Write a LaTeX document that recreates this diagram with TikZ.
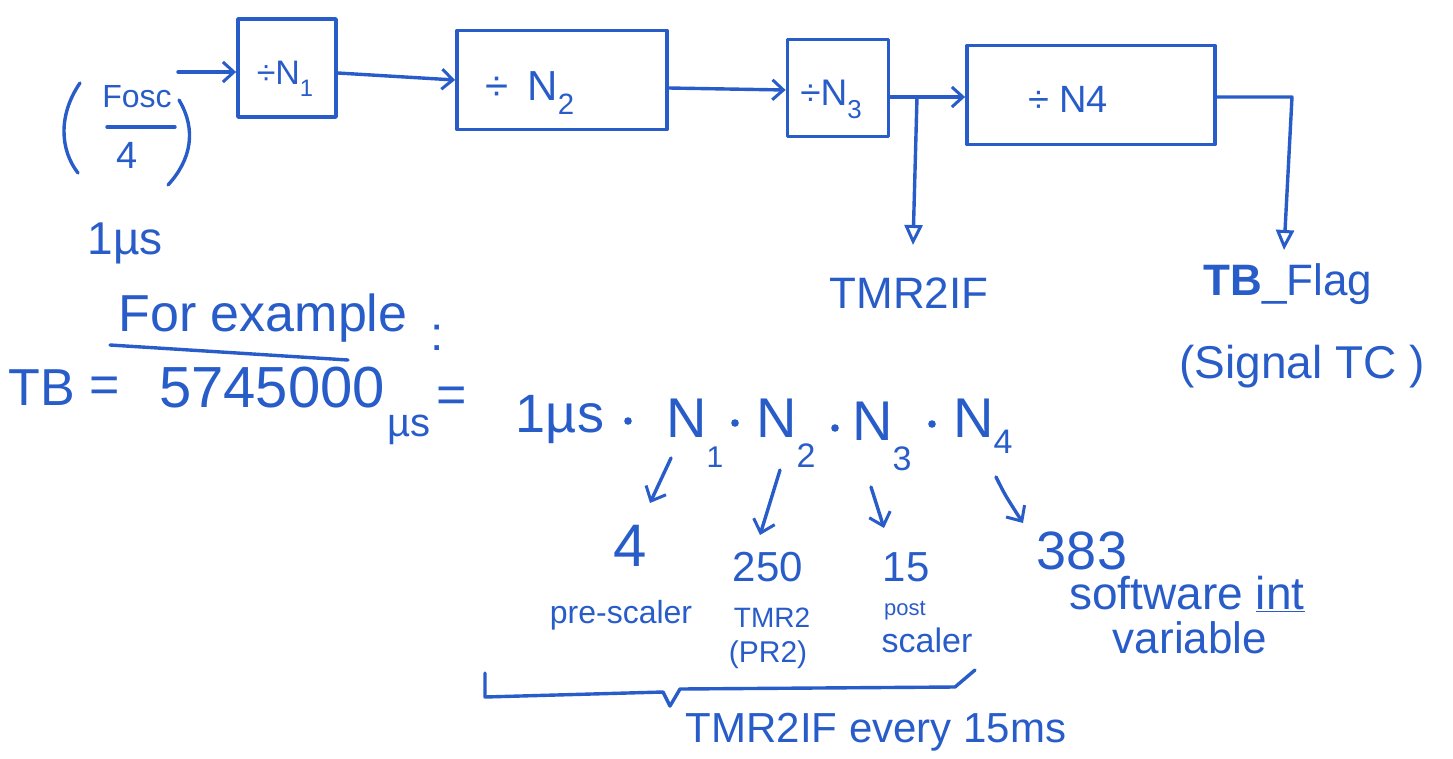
\documentclass[tikz,border=0pt]{standalone}
\usepackage{fontspec}
\usepackage{graphicx}
\setmainfont{Liberation Sans}
\usetikzlibrary{arrows.meta,calc}
\definecolor{ink}{RGB}{40,92,200}
\newcommand\fsz[1]{\fontsize{#1}{#1}\selectfont}
\newcommand\lowsub[1]{\raisebox{-0.35em}{\scalebox{0.7}{#1}}}
\newcommand\deepsub[2]{\raisebox{-0.55em}{\fsz{#1}#2}}

\begin{document}
\begin{tikzpicture}[x=1pt,y=-1pt, line cap=round, line join=round,
  every node/.style={text=ink, inner sep=0pt, anchor=center},
  box/.style={draw=ink, line width=3.8pt},
  wire/.style={draw=ink, line width=3.4pt},
  flow/.style={wire, -{Straight Barb[length=11pt,width=20pt,line width=3pt]}},
  tap/.style={wire, -{Triangle[open,length=20pt,width=18pt,line width=3pt]}},
  ptr/.style={wire, -{Straight Barb[length=12pt,width=22pt,line width=3pt]}},
]
\useasboundingbox (0,0) rectangle (1453,758);

% ---- divider chain ----
\node[box, minimum width=98, minimum height=98] (b1) at (287,68) {};
\node[box, minimum width=210, minimum height=99] (b2) at (562,80) {};
\node[box, minimum width=101, minimum height=97] (b3) at (838,88) {};
\node[box, minimum width=248, minimum height=99] (b4) at (1091,95) {};

\node[font=\fsz{34}] (l1) at (285,79) {÷N\lowsub{1}};
\node[font=\fsz{42}] (l2) at (530,93) {÷ \,N\lowsub{2}};
\node[font=\fsz{37}] (l3) at (831,99) {÷N\lowsub{3}};
\node[font=\fsz{38}] (l4) at (1068,99) {÷ N4};

% input (Fosc/4)
\node[font=\fsz{32}] (fosc) at (137,97) {Fosc};
\node[font=\fsz{38}] (four) at (127,155) {4};
\draw[wire] (107,127) -- (175,127);
\draw[wire] (80,83) .. controls (58,115) and (60,150) .. (78,173);
\draw[wire] (179,100) .. controls (197,130) and (191,160) .. (168,185);
\node[font=\fsz{46}] (onemu) at (125,243) {1µs};

\coordinate (in) at (178,72);
\draw[flow] (in) -- (in -| b1.west);
\draw[flow] ($(b1.east)+(0,5)$) -- (b2.west);
\draw[flow] ($(b2.east)+(0,8)$) -- ($(b3.west)+(0,2)$);
\coordinate (j) at (917,97);
\draw[flow] ($(b3.east)+(0,9)$) -- ($(b4.west)+(0,2)$);

% outputs
\node[font=\fsz{44}] (tmrif) at (909,293) {TMR2IF};
\coordinate (t1) at (913,245);
\draw[tap] (j) -- (t1);

\node[font=\fsz{44}] (tbf) at (1288,284) {\textbf{TB}\_Flag};
\node[font=\fsz{46}] (sig) at (1302,367) {(Signal TC )};
\coordinate (c4) at (1292,97);
\coordinate (t2) at (1284,250);
\draw[tap] (b4.east |- c4) -- (c4) -- (t2);

% ---- example ----
\node[font=\fsz{52}] (forex) at (263,318) {For example};
\draw[wire] (110,345) -- (348,360);
\node[font=\fsz{48}] (colon) at (437,338) {:};

\node[font=\fsz{52}] (tb) at (42,388) {TB};
\node[font=\fsz{52}] (eq1) at (105,390) {=};
\node[font=\fsz{58}] (num) at (272,388) {5745000};
\node[font=\fsz{40}] (mus) at (409,430) {µs};
\node[font=\fsz{52}] (eq2) at (452,400) {=};

\node[font=\fsz{54}] (one) at (560,420) {1µs};
\foreach \p/\q in {628/421,735/423,835/428,932/424}
  \fill[ink] (\p,\q) circle (3.8);
\node[font=\fsz{56}, anchor=base west] (n1) at (666,437) {N\deepsub{30}{1}};
\node[font=\fsz{56}, anchor=base west] (n2) at (756,437) {N\deepsub{34}{2}};
\node[font=\fsz{56}, anchor=base west] (n3) at (852,440) {N\deepsub{34}{3}};
\node[font=\fsz{56}, anchor=base west] (n4) at (953,437) {N\raisebox{-0.3em}{\fsz{34}4}};

\node[font=\fsz{60}] (v1) at (630,546) {4};
\node[font=\fsz{42}] (v2) at (768,567) {250};
\node[font=\fsz{42}] (v3) at (906,567) {15};
\node[font=\fsz{54}] (v4) at (1082,551) {383};

\coordinate (a1s) at (671,458); \coordinate (a1e) at (650,503);
\coordinate (a2s) at (780,470); \coordinate (a2e) at (760,535);
\coordinate (a3s) at (871,487); \coordinate (a3e) at (884,528);
\coordinate (a4s) at (996,477); \coordinate (a4e) at (1023,523);
\draw[ptr] (a1s) -- (a1e);
\draw[ptr] (a2s) -- (a2e);
\draw[ptr] (a3s) -- (a3e);
\draw[ptr] (a4s) .. controls (1005,495) .. (a4e);

\node[font=\fsz{32}] (pre) at (621,615) {pre-scaler};
\node[font=\fsz{28}] (tmr2) at (772,618) {TMR2};
\node[font=\fsz{30}] (pr2) at (768,655) {(PR2)};
\node[font=\fsz{22}] (post) at (905,611) {post};
\node[font=\fsz{34}] (scal) at (927,640) {scaler};

\node[font=\fsz{46}] (soft) at (1187,594) {software \underline{int}};
\node[font=\fsz{44}] (var) at (1190,638) {variable};

% brace
\draw[wire] (485,673) -- (485,697) -- (663,692) -- (670,706) -- (680,689) -- (955,687) -- (975,670);
\node[font=\fsz{42}] (every) at (876,732) {TMR2IF every 15ms};
\end{tikzpicture}
\end{document}
